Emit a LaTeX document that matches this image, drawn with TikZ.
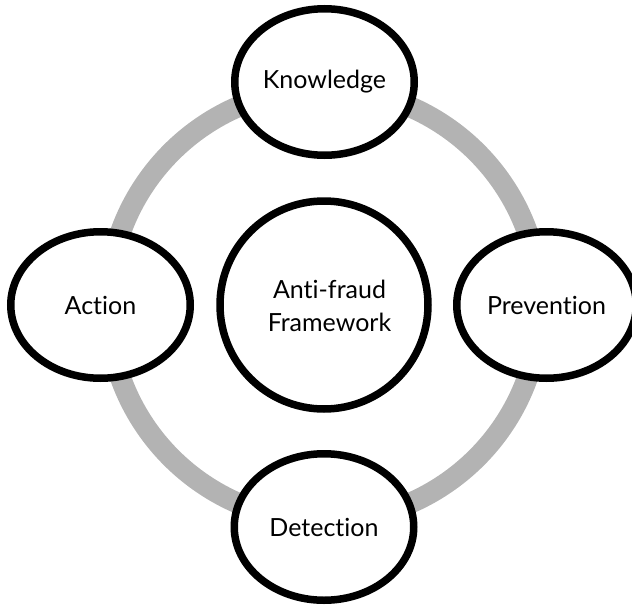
\documentclass[tikz,border=0pt]{standalone}
\usepackage{fontspec}
\setmainfont{Lato}[Ligatures={NoCommon,NoRare}]
\usetikzlibrary{shapes.geometric}
\definecolor{ringgray}{HTML}{B3B3B3}
\tikzset{
  stage/.style={ellipse, draw=black, fill=white, line width=7.5pt,
    minimum width=179.5pt, minimum height=146.5pt, inner sep=0pt,
    font=\fontsize{25}{33}\selectfont},
  core/.style={circle, draw=black, fill=white, line width=7.5pt,
    minimum size=208pt, inner sep=0pt},
  coretext/.style={align=center, inner sep=0pt, font=\fontsize{25}{33}\selectfont},
  ring/.style={draw=ringgray, line width=21pt}
}
\begin{document}
\begin{tikzpicture}[x=1pt,y=-1pt]
\useasboundingbox (0,0) rectangle (632,605);
\coordinate (hub) at (324,305);
\draw[ring] (hub) circle[radius=216pt];
\node[stage] (knowledge) at (324.5,82) {Knowledge};
\node[stage] (action) at (100.5,305) {Action};
\node[stage] (prevention) at (546.5,305) {Prevention};
\node[stage] (detection) at (324,527) {Detection};
\node[core] (framework) at (hub) {};
\node[coretext] (frameworktext) at (329.5,306) {Anti-fraud\\Framework};
\end{tikzpicture}
\end{document}
